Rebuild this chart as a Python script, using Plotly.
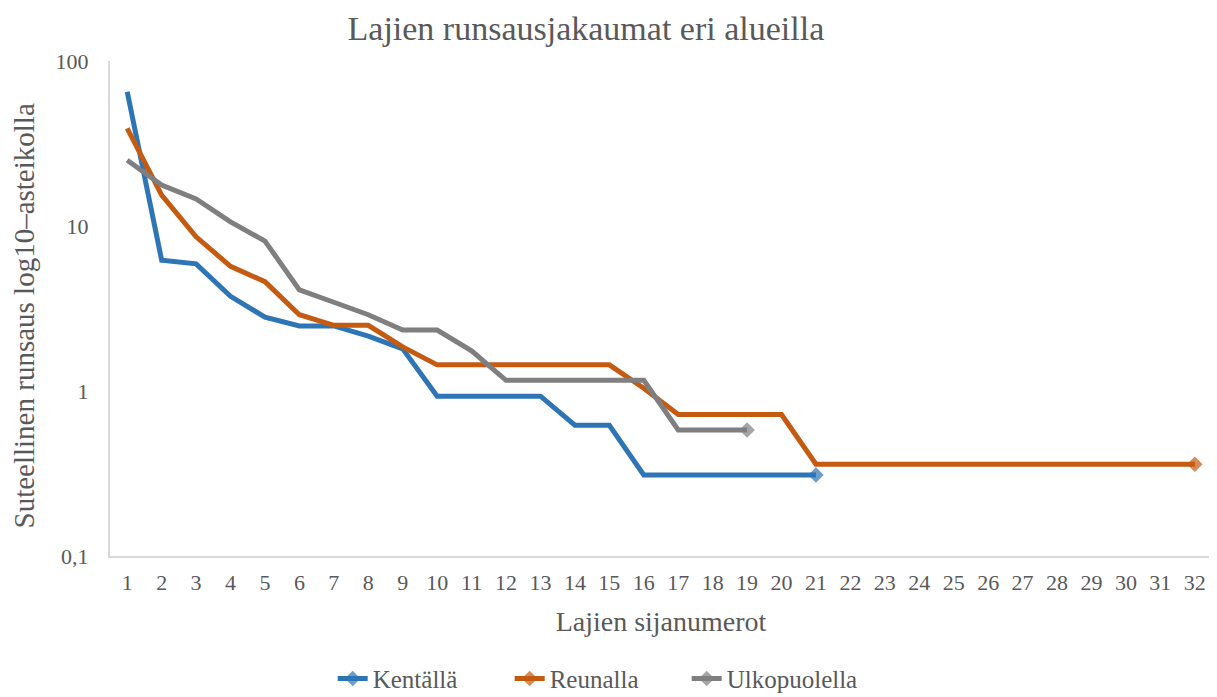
import plotly.graph_objects as go

ranks_k = list(range(1, 22))
kentalla = [65, 6.2, 5.9, 3.75, 2.8, 2.48, 2.48, 2.15, 1.8, 0.93, 0.93, 0.93, 0.93,
            0.62, 0.62, 0.31, 0.31, 0.31, 0.31, 0.31, 0.31]
ranks_r = list(range(1, 33))
reunalla = [39, 15.4, 8.6, 5.7, 4.6, 2.9, 2.5, 2.5, 1.85, 1.44, 1.44, 1.44, 1.44, 1.44, 1.44,
            1.04, 0.72, 0.72, 0.72, 0.72] + [0.36] * 12
ranks_u = list(range(1, 20))
ulkopuolella = [25, 17.7, 14.6, 10.6, 8.1, 4.1, 3.45, 2.9, 2.34, 2.34, 1.75, 1.16, 1.16,
                1.16, 1.16, 1.16, 0.58, 0.58, 0.58]
y_ticks = [0.1, 1, 10, 100]
y_ticktext = ["0,1", "1", "10", "100"]

series = [("Kentällä", ranks_k, kentalla, "#2E75B6"),
          ("Reunalla", ranks_r, reunalla, "#C55A11"),
          ("Ulkopuolella", ranks_u, ulkopuolella, "#7F7F7F")]

FONT = "Liberation Serif"
GREY = "#595959"
fig = go.Figure()
for name, xs, ys, col in series:
    sizes = [0] * (len(xs) - 1) + [12]
    fig.add_trace(go.Scatter(
        x=xs, y=ys, name=name, mode="lines+markers",
        line=dict(color=col, width=5),
        marker=dict(symbol="diamond", size=sizes, color=col, line=dict(width=0)),
    ))

# page body has an 8px margin, so the figure is sized/offset to compensate
fig.update_layout(
    width=1209, height=689,
    margin=dict(l=102, r=5, t=53, b=141, autoexpand=False),
    paper_bgcolor="white", plot_bgcolor="white",
    font=dict(family=FONT, color=GREY, size=23),
    title=dict(text="Lajien runsausjakaumat eri alueilla", x=0.478, xanchor="center",
               xref="container", y=0.971, yanchor="middle", automargin=False,
               font=dict(size=34, color=GREY, family=FONT)),
    xaxis=dict(range=[0.5, 32.5], tickmode="array", tickvals=ranks_r,
               ticktext=[str(v) for v in ranks_r], showgrid=False, zeroline=False,
               showline=True, linecolor="#D9D9D9", linewidth=2, ticks="",
               automargin=False, ticklabelstandoff=6,
               tickfont=dict(size=22, family=FONT, color=GREY),
               title=dict(text="Lajien sijanumerot", font=dict(size=28, family=FONT, color=GREY),
                          standoff=17)),
    yaxis=dict(type="log", range=[-1, 2], tickvals=y_ticks,
               ticktext=y_ticktext, showgrid=False, zeroline=False,
               showline=True, linecolor="#D9D9D9", linewidth=2, ticks="",
               automargin=False, ticklabelstandoff=15,
               tickfont=dict(size=22, family=FONT, color=GREY)),
    legend=dict(orientation="h", x=0.443, xanchor="center", y=-0.248, yanchor="middle",
                itemsizing="constant", entrywidth=132, entrywidthmode="pixels",
                font=dict(size=25, family=FONT, color=GREY)),
    showlegend=True,
    annotations=[dict(text="Suteellinen runsaus log10–asteikolla", textangle=-90,
                      xref="paper", yref="paper", x=0, y=0.5, xanchor="center",
                      yanchor="middle", xshift=-87, yshift=-8, showarrow=False,
                      font=dict(size=29, family=FONT, color=GREY))],
)

fig.write_html("out.html")
